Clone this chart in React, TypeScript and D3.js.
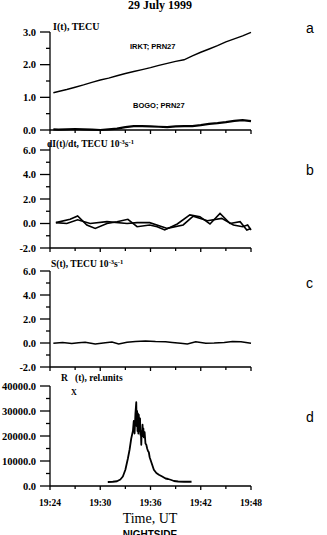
import React from "react";
import { scaleLinear, line, range } from "d3";

// time in minutes after 19:00 UT
const xTicksMajor = [24, 30, 36, 42, 48];
const xTicksMinor = [27, 33, 39, 45];

// panel a: I(t), TECU
const irktTime = [24.4, 25, 26, 27, 28, 29, 30, 31, 32, 33, 34, 35, 36, 37, 38, 39, 40, 41, 42, 43, 44, 45, 46, 47, 48];
const irktVal = [1.14, 1.18, 1.24, 1.31, 1.38, 1.46, 1.53, 1.59, 1.66, 1.73, 1.79, 1.85, 1.91, 1.98, 2.04, 2.1, 2.15, 2.27, 2.38, 2.48, 2.58, 2.7, 2.79, 2.88, 2.99];
const bogoTime = irktTime;
const bogoVal = [0.02, 0.01, 0.02, 0.03, 0.02, 0.01, 0.0, 0.02, 0.04, 0.09, 0.12, 0.12, 0.11, 0.1, 0.09, 0.11, 0.12, 0.12, 0.15, 0.19, 0.21, 0.24, 0.28, 0.3, 0.27];

// panel b: dI(t)/dt
const db1Time = [24.7, 26.4, 27.3, 28.4, 29.4, 30.8, 32.0, 33.3, 34.4, 35.9, 36.8, 37.7, 39.2, 40.7, 41.9, 43.1, 44.3, 45.5, 46.7, 47.5, 48.0];
const db1Val = [0.07, 0.34, 0.61, -0.12, -0.4, 0.0, 0.15, 0.34, -0.26, -0.12, -0.26, -0.53, -0.04, 0.7, 0.56, -0.04, 0.83, 0.0, 0.15, -0.53, -0.4];
const db2Time = [24.7, 26.0, 27.3, 28.8, 30.8, 33.2, 34.4, 35.9, 38.0, 39.9, 41.1, 42.8, 44.5, 45.9, 47.0, 47.6, 48.0];
const db2Val = [0.07, 0.0, 0.3, 0.0, 0.15, 0.0, 0.07, 0.07, -0.4, -0.12, 0.6, 0.23, 0.42, -0.12, -0.26, -0.12, -0.53];

// panel c: S(t)
const sTime = [24.4, 25.5, 26.6, 27.4, 28.2, 29.4, 30.6, 31.4, 32.2, 33.2, 34.2, 35.4, 36.6, 37.8, 38.6, 39.6, 40.4, 41.4, 42.6, 43.6, 44.8, 45.8, 46.8, 48.0];
const sVal = [-0.02, 0.04, -0.04, 0.03, 0.06, -0.08, 0.02, 0.08, -0.08, 0.06, 0.12, 0.16, 0.12, 0.1, 0.05, -0.02, -0.08, 0.1, -0.02, 0.0, 0.05, 0.12, 0.1, -0.02];

// panel d: Rx(t), rel.units
const rxTime = [30.9, 31.5, 32.0, 32.4, 32.7, 33.0, 33.3, 33.5, 33.7, 33.9, 34.0, 34.1, 34.2, 34.3, 34.35, 34.4, 34.45, 34.5, 34.55, 34.6, 34.7, 34.75, 34.8, 34.85, 34.9, 34.95, 35.0, 35.05, 35.1, 35.15, 35.2, 35.3, 35.4, 35.5, 35.6, 35.7, 35.8, 35.9, 36.0, 36.2, 36.4, 36.7, 37.0, 37.4, 37.8, 38.1, 38.4, 38.8, 39.3, 40.0, 40.9];
const rxVal = [1600, 1700, 1900, 2600, 3800, 6500, 11000, 14500, 19000, 22000, 26000, 21000, 29000, 33500, 24000, 30000, 22000, 29000, 21000, 28500, 22000, 27000, 20500, 22000, 16500, 22000, 21000, 24500, 20000, 23000, 19500, 21500, 17000, 16500, 15000, 14000, 13500, 11500, 10500, 8500, 6500, 5200, 4500, 3800, 3000, 2800, 2500, 2000, 1800, 1700, 1700];

const serif = "'Liberation Serif', 'DejaVu Serif', serif";
const sans = "'Liberation Sans', Arial, sans-serif";

const x = scaleLinear().domain([24, 48]).range([50, 251]);

type Panel = {
  y: any;
  top: number;
  major: number[];
  minor: number[];
  fmt: (v: number) => string;
};

const pa: Panel = { y: scaleLinear().domain([0, 3]).range([130, 32]), top: 32, major: [0, 1, 2, 3], minor: [0.5, 1.5, 2.5], fmt: (v) => v.toFixed(1) };
const pb: Panel = { y: scaleLinear().domain([-2, 6]).range([248, 150]), top: 143, major: [-2, 0, 2, 4, 6], minor: [-1, 1, 3, 5], fmt: (v) => v.toFixed(1) };
const pc: Panel = { y: scaleLinear().domain([-2, 6]).range([367, 271]), top: 271, major: [-2, 0, 2, 4, 6], minor: [-1, 1, 3, 5], fmt: (v) => v.toFixed(1) };
const pd: Panel = { y: scaleLinear().domain([0, 40000]).range([486, 386]), top: 386, major: range(0, 40001, 10000), minor: range(5000, 40000, 10000), fmt: (v) => v.toFixed(1) };

const mkLine = (p: Panel, t: number[], v: number[]) =>
  line<number>()
    .x((_, i) => x(t[i]))
    .y((d) => p.y(d))(v) as string;

const Axes = ({ p }: { p: Panel }) => {
  const y0 = p.y.range()[0];
  return (
    <g stroke="#000" strokeWidth={1.3} fill="none">
      <line x1={50} x2={50} y1={p.top} y2={y0} />
      <line x1={50} x2={251} y1={y0} y2={y0} />
      {p.major.map((v) => (
        <line key={"M" + v} x1={40} x2={50} y1={p.y(v)} y2={p.y(v)} />
      ))}
      {p.minor.map((v) => (
        <line key={"m" + v} x1={46} x2={50} y1={p.y(v)} y2={p.y(v)} />
      ))}
      {xTicksMajor.map((t) => (
        <line key={"xM" + t} x1={x(t)} x2={x(t)} y1={y0} y2={y0 + 4} />
      ))}
      {xTicksMinor.map((t) => (
        <line key={"xm" + t} x1={x(t)} x2={x(t)} y1={y0} y2={y0 + 3} />
      ))}
      <g stroke="none" fill="#000" fontFamily={serif} fontWeight="bold" fontSize={10.5} textAnchor="end">
        {p.major.map((v) => (
          <text key={"l" + v} x={36} y={p.y(v) + 3.8}>
            {p.fmt(v)}
          </text>
        ))}
      </g>
    </g>
  );
};

const App = () => {
  return (
    <svg width={327} height={535} style={{ position: "absolute", left: 0, top: 0, background: "#fff" }}>
      <text x={160} y={9} textAnchor="middle" fontFamily={serif} fontWeight="bold" fontSize={12}>
        29 July 1999
      </text>

      {[pa, pb, pc, pd].map((p, i) => (
        <Axes key={i} p={p} />
      ))}

      {/* panel a */}
      <text x={53} y={30} fontFamily={serif} fontWeight="bold" fontSize={10}>I(t), TECU</text>
      <text x={130} y={49} fontFamily={sans} fontWeight="bold" fontSize={7.5}>IRKT; PRN27</text>
      <text x={133} y={108} fontFamily={sans} fontWeight="bold" fontSize={7.5}>BOGO; PRN27</text>
      <path d={mkLine(pa, irktTime, irktVal)} fill="none" stroke="#000" strokeWidth={1.4} />
      <path d={mkLine(pa, bogoTime, bogoVal)} fill="none" stroke="#000" strokeWidth={2.2} />

      {/* panel b */}
      <text x={47} y={147} fontFamily={serif} fontWeight="bold" fontSize={9.5}>
        dI(t)/dt, TECU 10<tspan dy={-3} fontSize={6.5}>-3</tspan><tspan dy={3}>s</tspan><tspan dy={-3} fontSize={6.5}>-1</tspan>
      </text>
      <path d={mkLine(pb, db1Time, db1Val)} fill="none" stroke="#000" strokeWidth={1.6} />
      <path d={mkLine(pb, db2Time, db2Val)} fill="none" stroke="#000" strokeWidth={1.6} />

      {/* panel c */}
      <text x={51} y={267} fontFamily={serif} fontWeight="bold" fontSize={9.5}>
        S(t), TECU 10<tspan dy={-3} fontSize={6.5}>-3</tspan><tspan dy={3}>s</tspan><tspan dy={-3} fontSize={6.5}>-1</tspan>
      </text>
      <path d={mkLine(pc, sTime, sVal)} fill="none" stroke="#000" strokeWidth={1.5} />

      {/* panel d */}
      <text x={61} y={381} fontFamily={serif} fontWeight="bold" fontSize={9.5}>R</text>
      <text x={71} y={395} fontFamily={serif} fontWeight="bold" fontSize={8}>X</text>
      <text x={75} y={381} fontFamily={serif} fontWeight="bold" fontSize={9.5}>(t), rel.units</text>
      <path d={mkLine(pd, rxTime, rxVal)} fill="none" stroke="#000" strokeWidth={1.8} strokeLinejoin="round" />

      {/* panel letters */}
      <g fontFamily={sans} fontSize={14}>
        <text x={306} y={33}>a</text>
        <text x={306} y={175}>b</text>
        <text x={306} y={288}>c</text>
        <text x={306} y={422}>d</text>
      </g>

      {/* x tick labels */}
      <g fontFamily={serif} fontWeight="bold" fontSize={9.5} textAnchor="middle">
        {xTicksMajor.map((t) => (
          <text key={t} x={x(t)} y={506}>{`19:${t}`}</text>
        ))}
      </g>
      <text x={150} y={523} textAnchor="middle" fontFamily={serif} fontSize={14}>Time, UT</text>
      <text x={150} y={538} textAnchor="middle" fontFamily={sans} fontWeight="bold" fontSize={10}>NIGHTSIDE</text>
    </svg>
  );
};

export default App;
